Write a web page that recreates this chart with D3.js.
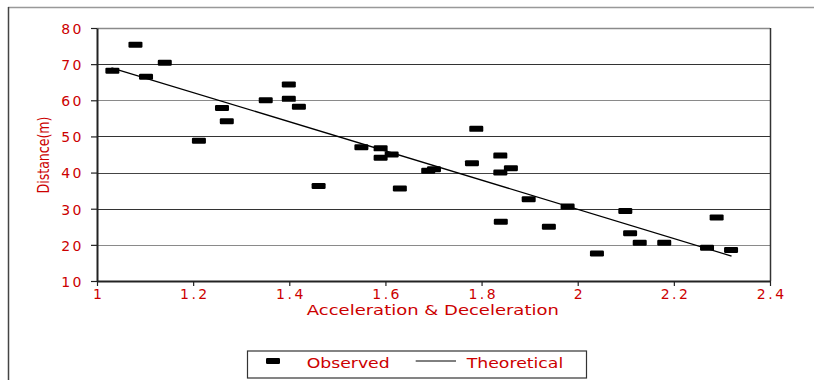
<!DOCTYPE html>
<html>
<head>
<meta charset="utf-8">
<script src="https://cdn.jsdelivr.net/npm/d3@7"></script>
<style>
  html, body { margin: 0; padding: 0; background: #fff; }
  svg { display: block; }
  text { font-family: "DejaVu Sans", sans-serif; fill: #cc0000; }
</style>
</head>
<body>
<svg id="chart" width="814" height="380"></svg>
<script>
// ---- data ----
const observedX = [1.032, 1.080, 1.102, 1.141, 1.212, 1.260, 1.270, 1.351, 1.399, 1.399, 1.420,
  1.461, 1.550, 1.590, 1.590, 1.613, 1.630, 1.689, 1.701, 1.780, 1.789, 1.839, 1.839, 1.861,
  1.840, 1.898, 1.940, 1.979, 2.040, 2.099, 2.109, 2.129, 2.180, 2.269, 2.289, 2.319];
const observedY = [68.2, 75.4, 66.5, 70.4, 48.8, 57.9, 54.2, 60.0, 64.4, 60.4, 58.2,
  36.3, 47.0, 46.7, 44.1, 45.0, 35.6, 40.5, 40.9, 42.6, 52.1, 44.7, 40.0, 41.2,
  26.4, 32.6, 25.0, 30.6, 17.6, 29.4, 23.2, 20.6, 20.6, 19.2, 27.6, 18.6];
const theoreticalX = [1.03, 2.32];
const theoreticalY = [69.0, 16.9];
const xTicks = [1, 1.2, 1.4, 1.6, 1.8, 2, 2.2, 2.4];
const yTicks = [10, 20, 30, 40, 50, 60, 70, 80];
const xTitle = "Acceleration & Deceleration";
const yTitle = "Distance(m)";
const legendLabels = ["Observed", "Theoretical"];

// ---- layout ----
const svg = d3.select("#chart");
const L = 97, R = 770, T = 28, B = 281;
const x = d3.scaleLinear().domain([1, 2.4]).range([L, R]);
const y = d3.scaleLinear().domain([10, 80]).range([B, T]);
const red = "#cc0000";

// outer frame (top & left only)
svg.append("line").attr("x1", 8).attr("x2", 814).attr("y1", 7.5).attr("y2", 7.5)
  .attr("stroke", "#999").attr("stroke-width", 1.5);
svg.append("line").attr("x1", 8.5).attr("x2", 8.5).attr("y1", 7).attr("y2", 380)
  .attr("stroke", "#444").attr("stroke-width", 1.5);

// gridlines
const gridColor = {80: "#8a8a8a", 70: "#333", 60: "#8a8a8a", 50: "#333", 40: "#444", 30: "#333", 20: "#8a8a8a"};
svg.append("g").selectAll("line").data(yTicks.filter(d => d > 10)).join("line")
  .attr("x1", L).attr("x2", R)
  .attr("y1", d => Math.round(y(d)) + 0.5).attr("y2", d => Math.round(y(d)) + 0.5)
  .attr("stroke", d => gridColor[d]).attr("stroke-width", d => d === 80 ? 1.6 : 1.2);

// right border of plot
svg.append("line").attr("x1", R + 0.5).attr("x2", R + 0.5).attr("y1", T).attr("y2", B)
  .attr("stroke", "#333").attr("stroke-width", 1.5);

// axes
const xAxis = d3.axisBottom(x).tickValues(xTicks).tickSize(5).tickSizeOuter(0).tickFormat(d3.format("~g"));
const gx = svg.append("g").attr("transform", `translate(0,${B})`).call(xAxis);
gx.select(".domain").attr("stroke", "#222").attr("stroke-width", 2);
gx.selectAll(".tick line").attr("stroke", "#222").attr("stroke-width", 1.2);
gx.selectAll(".tick text").attr("fill", red).attr("font-size", 14).attr("dy", 0).attr("y", 18).attr("dx", 1.2)
  .attr("font-family", "DejaVu Sans").style("letter-spacing", "2.5px");

const yAxis = d3.axisLeft(y).tickValues(yTicks).tickSize(6).tickSizeOuter(0);
const gy = svg.append("g").attr("transform", `translate(${L},0)`).call(yAxis);
gy.select(".domain").attr("stroke", "#222").attr("stroke-width", 2);
gy.selectAll(".tick line").attr("stroke", "#222").attr("stroke-width", 1.2);
gy.selectAll(".tick text").attr("fill", red).attr("font-size", 14).attr("x", -13).attr("dy", "0.38em")
  .attr("font-family", "DejaVu Sans").style("letter-spacing", "2.5px");

// axis titles
svg.append("text").attr("x", (306.7 + 559) / 2).attr("y", 315).attr("text-anchor", "middle")
  .attr("font-size", 14).attr("textLength", 252).attr("lengthAdjust", "spacingAndGlyphs").text(xTitle);
svg.append("text").attr("transform", "translate(49,155) rotate(-90)").attr("text-anchor", "middle")
  .attr("font-size", 16).attr("textLength", 77).attr("lengthAdjust", "spacingAndGlyphs").text(yTitle);

// theoretical line
const line = d3.line().x(d => x(d[0])).y(d => y(d[1]));
svg.append("path").datum(d3.zip(theoreticalX, theoreticalY)).attr("d", line)
  .attr("fill", "none").attr("stroke", "#000").attr("stroke-width", 1.3);

// observed markers
svg.append("g").selectAll("rect").data(d3.zip(observedX, observedY)).join("rect")
  .attr("x", d => x(d[0]) - 7).attr("y", d => y(d[1]) - 3)
  .attr("width", 14).attr("height", 6).attr("rx", 1.2)
  .attr("fill", "#000");

// legend
const lg = svg.append("g");
lg.append("rect").attr("x", 247.5).attr("y", 351).attr("width", 339).attr("height", 27)
  .attr("fill", "#fff").attr("stroke", "#333").attr("stroke-width", 1.2);
lg.append("rect").attr("x", 266).attr("y", 358).attr("width", 14).attr("height", 6).attr("rx", 1.2).attr("fill", "#000");
lg.append("text").attr("x", 306.7).attr("y", 368).attr("font-size", 14)
  .attr("textLength", 83).attr("lengthAdjust", "spacingAndGlyphs").text(legendLabels[0]);
lg.append("line").attr("x1", 415.7).attr("x2", 456).attr("y1", 361).attr("y2", 361)
  .attr("stroke", "#000").attr("stroke-width", 1);
lg.append("text").attr("x", 466.7).attr("y", 368).attr("font-size", 14)
  .attr("textLength", 96.6).attr("lengthAdjust", "spacingAndGlyphs").text(legendLabels[1]);
</script>
</body>
</html>
